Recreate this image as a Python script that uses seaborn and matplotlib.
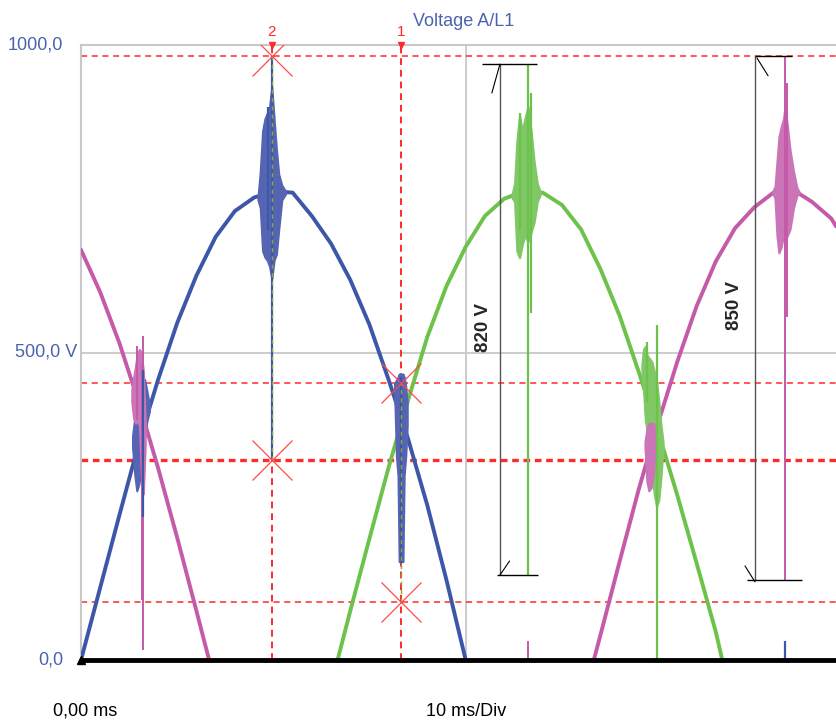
import numpy as np
import pandas as pd
import seaborn as sns
import matplotlib.pyplot as plt

# Phase traces (time in ms, voltage in V)
blue_t = [0.0, 0.5, 1.0, 1.5, 2.0, 2.5, 3.0, 3.5, 4.0, 4.5, 5.0, 5.5, 6.0, 6.5, 7.0,
          7.5, 8.0, 8.5, 9.0, 9.5, 10.0]
blue_v = [0, 118, 236, 352, 455, 548, 625, 688, 730, 752, 762, 760, 722, 677, 618,
          545, 455, 360, 252, 130, 0]

green_t = [6.67, 7.0, 7.5, 8.0, 8.5, 9.0, 9.5, 10.0, 10.5, 11.0, 11.5, 12.0, 12.5,
           13.0, 13.5, 14.0, 14.5, 15.0, 15.5, 16.0, 16.5, 16.67]
green_v = [0, 80, 198, 314, 422, 525, 608, 672, 722, 750, 762, 760, 740, 700, 636,
           560, 468, 372, 268, 158, 46, 0]

magenta1_t = [0.0, 0.5, 1.0, 1.5, 2.0, 2.5, 3.0, 3.33]
magenta1_v = [667, 598, 515, 419, 313, 199, 80, 0]
magenta2_t = [13.33, 13.5, 14.0, 14.5, 15.0, 15.5, 16.0, 16.5, 17.0, 17.5, 18.0, 18.5,
              19.0, 19.5, 19.63]
magenta2_v = [0, 40, 160, 278, 385, 485, 575, 648, 702, 736, 760, 765, 745, 718, 705]

# Transient bursts: envelopes (t, low, high)
b_peak_t = [4.60, 4.66, 4.72, 4.78, 4.84, 4.90, 4.96, 5.02, 5.08, 5.14, 5.22, 5.32]
b_peak_lo = [748, 735, 665, 655, 650, 640, 620, 650, 660, 700, 748, 758]
b_peak_hi = [752, 795, 860, 880, 889, 900, 932, 880, 830, 790, 772, 762]
b_x1_t = [1.34, 1.40, 1.45, 1.50, 1.55, 1.61, 1.66, 1.72, 1.78]
b_x1_lo = [345, 300, 275, 285, 300, 320, 370, 390, 405]
b_x1_hi = [365, 395, 420, 450, 455, 460, 455, 435, 415]
b_x2_t = [8.15, 8.20, 8.24, 8.27, 8.37, 8.40, 8.44, 8.48]
b_x2_lo = [440, 330, 300, 160, 160, 300, 330, 380]
b_x2_hi = [450, 455, 460, 465, 465, 460, 445, 420]

g_peak_t = [11.20, 11.27, 11.33, 11.40, 11.47, 11.54, 11.62, 11.70, 11.78, 11.86, 11.95]
g_peak_lo = [752, 745, 665, 654, 675, 690, 680, 695, 712, 745, 758]
g_peak_hi = [756, 775, 845, 886, 860, 881, 900, 860, 810, 775, 760]
g_x_t = [14.58, 14.62, 14.67, 14.72, 14.78, 14.84, 14.90, 14.96, 15.02, 15.08, 15.13]
g_x_lo = [470, 440, 390, 370, 340, 300, 270, 250, 260, 300, 345]
g_x_hi = [480, 505, 510, 495, 490, 485, 470, 455, 420, 380, 355]

m_peak_t = [17.98, 18.04, 18.09, 18.14, 18.20, 18.26, 18.30, 18.36, 18.43, 18.52, 18.61, 18.68]
m_peak_lo = [760, 750, 690, 662, 671, 690, 680, 690, 700, 735, 755, 760]
m_peak_hi = [762, 770, 810, 850, 867, 880, 900, 870, 830, 795, 768, 760]
m_x1_t = [1.32, 1.37, 1.42, 1.47, 1.52, 1.57, 1.62, 1.67]
m_x1_lo = [420, 392, 385, 390, 380, 300, 270, 350]
m_x1_hi = [440, 460, 480, 500, 505, 500, 470, 385]
m_x2_t = [14.66, 14.71, 14.76, 14.82, 14.88, 14.94]
m_x2_lo = [345, 290, 275, 280, 300, 355]
m_x2_hi = [355, 375, 385, 385, 385, 370]

# Thin spikes (t, low, high)
blue_spike_t = [4.96, 4.86, 1.61, 8.32, 18.30]
blue_spike_lo = [325, 700, 232, 158, 0]
blue_spike_hi = [982, 900, 471, 460, 31]
green_spike_t = [11.62, 11.70, 11.41, 14.98, 14.70]
green_spike_lo = [138, 564, 700, 0, 420]
green_spike_hi = [969, 922, 889, 545, 517]
magenta_spike_t = [18.30, 18.36, 1.61, 1.58, 1.45, 11.62]
magenta_spike_lo = [130, 558, 16, 97, 390, 0]
magenta_spike_hi = [982, 938, 527, 480, 510, 31]

# Cursors
cursor_t = [4.96, 8.32]
cursor_names = ["2", "1"]
cursor_hits_t = [4.96, 4.96, 8.32, 8.32]
cursor_hits_v = [982, 325, 450, 95]
level_lines = [982, 450, 95]
level_thick = 325

# Measurements: vertical, top, bottom, label
meas_t = [10.89, 17.52]
meas_top = [969, 982]
meas_bot = [138, 130]
meas_labels = ["820 V", "850 V"]

C_BLUE = "#3d57a8"
C_GREEN = "#6cc24a"
C_MAG = "#c45aa8"
C_RED = "#ff2a2a"
C_TXT = "#4a62b0"
C_GRID = "#c8c8c8"

sns.set_style("white")
plt.rcParams["font.family"] = ["Liberation Sans", "DejaVu Sans"]

W, H = 836, 720
fig = plt.figure(figsize=(W / 100, H / 100), dpi=100)
ax = fig.add_axes([81 / W, 60 / H, 755 / W, 615 / H])
ax.set_xlim(0, 755 / 38.47)
ax.set_ylim(0, 1000)

# gray frame / grid
for s in ["right", "bottom"]:
    ax.spines[s].set_visible(False)
for s in ["left", "top"]:
    ax.spines[s].set_color(C_GRID)
    ax.spines[s].set_linewidth(1.5)
ax.axhline(500, color=C_GRID, lw=1.3, zorder=0)
ax.axvline(10.0, color=C_GRID, lw=1.3, zorder=0)
ax.set_xticks([])
ax.set_yticks([])
ax.set_xlabel("")
ax.set_ylabel("")

# level lines and cursor lines
for v in level_lines:
    ax.axhline(v, color=C_RED, lw=1.1, dashes=(4, 3), zorder=1)
ax.axhline(level_thick, color=C_RED, lw=2.4, dashes=(2, 1.4), zorder=1)
for t in cursor_t:
    ax.axvline(t, color=C_RED, lw=1.4, dashes=(3.5, 2.5), zorder=1)

# traces
rows = []
for name, seg, ts, vs in [("blue", 0, blue_t, blue_v), ("green", 1, green_t, green_v),
                          ("magenta", 2, magenta1_t, magenta1_v),
                          ("magenta", 3, magenta2_t, magenta2_v)]:
    for t, v in zip(ts, vs):
        rows.append({"t": t, "v": v, "phase": name, "seg": seg})
df = pd.DataFrame(rows)
sns.lineplot(data=df, x="t", y="v", hue="phase", units="seg", estimator=None,
             palette={"blue": C_BLUE, "green": C_GREEN, "magenta": C_MAG},
             lw=2.8, legend=False, sort=False, ax=ax, zorder=3)

# bursts
for ts, lo, hi, col in [(b_peak_t, b_peak_lo, b_peak_hi, "#5565b3"),
                        (b_x1_t, b_x1_lo, b_x1_hi, "#5565b3"),
                        (b_x2_t, b_x2_lo, b_x2_hi, "#5565b3"),
                        (g_peak_t, g_peak_lo, g_peak_hi, "#80c866"),
                        (g_x_t, g_x_lo, g_x_hi, "#80c866"),
                        (m_peak_t, m_peak_lo, m_peak_hi, "#cc74b8"),
                        (m_x1_t, m_x1_lo, m_x1_hi, "#cc74b8"),
                        (m_x2_t, m_x2_lo, m_x2_hi, "#cc74b8")]:
    ax.fill_between(ts, lo, hi, color=col, lw=1.5, edgecolor=col, zorder=4)

ax.vlines(magenta_spike_t, magenta_spike_lo, magenta_spike_hi, color=C_MAG, lw=1.4, zorder=4)
ax.vlines(green_spike_t, green_spike_lo, green_spike_hi, color=C_GREEN, lw=1.6, zorder=4)
ax.vlines(blue_spike_t, blue_spike_lo, blue_spike_hi, color=C_BLUE, lw=1.6, zorder=4)

# cursor overlay inside the spikes
ax.vlines([cursor_t[0]], [cursor_hits_v[1]], [cursor_hits_v[0]], color="#8fa63c",
          lw=1.0, linestyles=(0, (3, 3)), zorder=5)
ax.vlines([cursor_t[1]], [cursor_hits_v[3]], [cursor_hits_v[2]], color="#8fa63c",
          lw=1.0, linestyles=(0, (3, 3)), zorder=5)

# cursor hit markers
ax.plot(cursor_hits_t, cursor_hits_v, ls="none", marker="x", ms=29, mew=0.9,
        color="#ff4848", zorder=6)
ax.plot(cursor_t, [1000, 1000], ls="none", marker="v", ms=5, color=C_RED,
        clip_on=False, zorder=6)
for t, n in zip(cursor_t, cursor_names):
    ax.text(t, 1010, n, color=C_RED, ha="center", va="bottom", fontsize=11)

# zero baseline
ax.axhline(0, color="black", lw=3.5, clip_on=False, zorder=7)
ax.plot([0], [0], marker="^", ms=6, color="black", clip_on=False, zorder=8)

# measurement brackets
for t, top, bot, lab, k in zip(meas_t, meas_top, meas_bot, meas_labels, [0, 1]):
    ax.vlines(t, bot, top, color="#555555", lw=1.0, zorder=5)
    if k == 0:
        ax.hlines(top, t - 0.47, t + 0.96, color="black", lw=1.0, zorder=5)
        ax.hlines(bot, t - 0.08, t + 0.99, color="black", lw=1.0, zorder=5)
        ax.plot([t, t - 0.21], [top, top - 47], color="black", lw=0.8, zorder=5)
        ax.plot([t, t + 0.25], [bot, bot + 23], color="black", lw=0.8, zorder=5)
        ax.text(t - 0.44, 541, lab, rotation=90, ha="center", va="center",
                fontsize=13.5, fontweight="bold")
    else:
        ax.hlines(top, t, t + 0.96, color="black", lw=1.0, zorder=5)
        ax.hlines(bot, t - 0.21, t + 1.22, color="black", lw=1.0, zorder=5)
        ax.plot([t + 0.05, t + 0.34], [top - 3, top - 32], color="black", lw=0.8, zorder=5)
        ax.plot([t, t - 0.26], [bot - 3, bot + 23], color="black", lw=0.8, zorder=5)
        ax.text(t - 0.52, 577, lab, rotation=90, ha="center", va="center",
                fontsize=13.5, fontweight="bold")

# screen labels
def px(x, y):
    return x / W, 1 - y / H

fig.text(*px(464, 21), "Voltage A/L1", color=C_TXT, fontsize=13, ha="center", va="center")
fig.text(*px(63, 45), "1000,0", color=C_TXT, fontsize=13, ha="right", va="center")
fig.text(*px(77, 352), "500,0 V", color=C_TXT, fontsize=13, ha="right", va="center")
fig.text(*px(63, 660), "0,0", color=C_TXT, fontsize=13, ha="right", va="center")
fig.text(*px(53, 711), "0,00 ms", color="black", fontsize=13, ha="left", va="center")
fig.text(*px(466, 711), "10 ms/Div", color="black", fontsize=13, ha="center", va="center")

fig.savefig("out.png", dpi=100)
